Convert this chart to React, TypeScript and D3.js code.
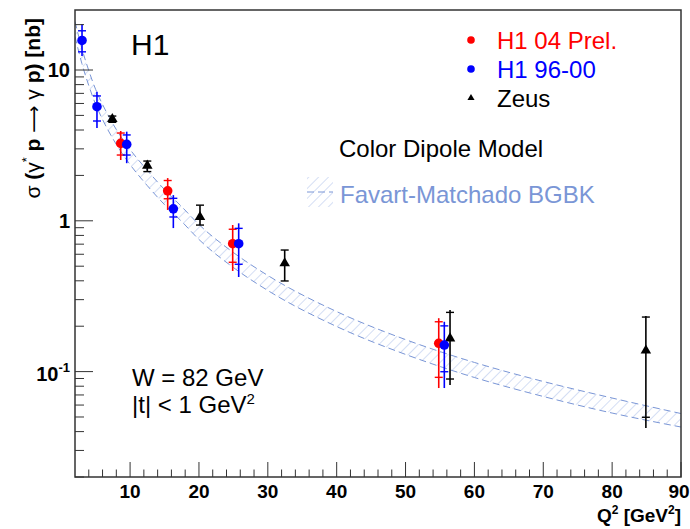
import React from 'react';
import * as d3 from 'd3';

// H1 04 Prel. (red)
const h104Q2 = [8.64, 15.46, 24.9, 54.82];
const h104Sigma = [3.26, 1.58, 0.705, 0.154];
const h104StatLo = [2.73, 1.4, 0.531, 0.0916];
const h104StatHi = [3.82, 1.85, 0.879, 0.214];
const h104TotLo = [2.53, 1.18, 0.465, 0.0778];
const h104TotHi = [3.94, 1.92, 0.938, 0.226];

// H1 96-00 (blue)
const h196Q2 = [3.02, 5.19, 9.51, 16.28, 25.77, 55.63];
const h196Sigma = [15.7, 5.71, 3.21, 1.2, 0.705, 0.15];
const h196StatLo = [13.2, 4.59, 2.73, 1.06, 0.515, 0.0998];
const h196StatHi = [18.2, 6.73, 3.71, 1.41, 0.891, 0.201];
const h196TotLo = [12.4, 4.12, 2.41, 0.895, 0.424, 0.0778];
const h196TotHi = [20.2, 7.18, 3.9, 1.48, 0.962, 0.214];

// Zeus (black)
const zeusQ2 = [7.42, 12.5, 20.15, 32.45, 56.46, 84.9];
const zeusSigma = [4.73, 2.32, 1.06, 0.523, 0.166, 0.138];
const zeusStatLo = [4.5, 2.12, 0.937, 0.399, 0.0893, 0.0498];
const zeusStatHi = [4.95, 2.49, 1.27, 0.64, 0.247, 0.23];
const zeusTotLo = [4.5, 2.12, 0.937, 0.399, 0.0815, 0.0423];
const zeusTotHi = [4.95, 2.49, 1.27, 0.64, 0.256, 0.234];

// Favart-Matchado BGBK band
const bandQ2 = [2, 3, 4, 5, 6, 8, 10, 12.5, 15, 17.5, 20, 25, 30, 40, 50, 60, 70, 80, 90];
const bandHi = [20.97, 13.89, 9.92, 7.43, 5.91, 4.03, 2.97, 2.16, 1.61, 1.24, 0.945, 0.616, 0.434, 0.25, 0.163, 0.115, 0.086, 0.0668, 0.0527];
const bandLo = [16.68, 11.04, 7.89, 5.91, 4.7, 3.21, 2.36, 1.71, 1.28, 0.989, 0.752, 0.49, 0.345, 0.199, 0.13, 0.0914, 0.0684, 0.0531, 0.0429];

const xTicks = [10, 20, 30, 40, 50, 60, 70, 80, 90];

const W = 690;
const H = 529;
const margin = { top: 10, right: 9, bottom: 52, left: 75 };
const FONT = '"Liberation Sans", Arial, Helvetica, sans-serif';
const BAND = '#7a96d6';

const x = d3.scaleLinear().domain([2, 90]).range([margin.left, W - margin.right]);
const y = d3.scaleLog().domain([0.02, 25]).range([H - margin.bottom, margin.top]);

const x0 = margin.left, x1 = W - margin.right, y0 = margin.top, y1 = H - margin.bottom;

function Series({ q2, sigma, statLo, statHi, totLo, totHi, color, marker }) {
    const tri = d3.symbol(d3.symbolTriangle, 48)();
    return (
        <g>
            {q2.map((q, i) => {
                const cx = x(q);
                return (
                    <g key={i}>
                        <line x1={cx} x2={cx} y1={y(totLo[i])} y2={y(totHi[i])} stroke={color} strokeWidth={1.6} />
                        <line x1={cx - 4} x2={cx + 4} y1={y(statLo[i])} y2={y(statLo[i])} stroke={color} strokeWidth={1.4} />
                        <line x1={cx - 4} x2={cx + 4} y1={y(statHi[i])} y2={y(statHi[i])} stroke={color} strokeWidth={1.4} />
                        {marker === 'circle'
                            ? <circle cx={cx} cy={y(sigma[i])} r={4.8} fill={color} />
                            : <path d={tri} transform={`translate(${cx},${y(sigma[i])})`} fill={color} />}
                    </g>
                );
            })}
        </g>
    );
}

export default function App() {
    // minor log ticks
    const yMinor = [];
    [0.01, 0.1, 1, 10].forEach(dec => {
        for (let k = 2; k <= 9; k++) {
            const v = dec * k;
            if (v >= 0.02 && v <= 25) yMinor.push(v);
        }
    });
    const xMinor = d3.range(4, 90, 2).filter(v => v % 10 !== 0);

    const bandLine = d3.line().x(d => d[0]).y(d => d[1]).curve(d3.curveMonotoneX);
    const upper = bandQ2.map((q, i) => [x(q), y(bandHi[i])]);
    const lower = bandQ2.map((q, i) => [x(q), y(bandLo[i])]);
    const area = d3.area().x(d => d[0]).y0(d => d[1]).y1(d => d[2]).curve(d3.curveMonotoneX);
    const areaPts = bandQ2.map((q, i) => [x(q), y(bandLo[i]), y(bandHi[i])]);

    return (
        <svg width={W} height={H} style={{ position: 'absolute', left: 0, top: 0, background: '#fff' }} fontFamily={FONT}>
            <defs>
                <pattern id="hatch" patternUnits="userSpaceOnUse" width={7} height={7} patternTransform="rotate(45)">
                    <line x1={0} y1={0} x2={0} y2={7} stroke="#a9bdea" strokeWidth={1} />
                </pattern>
                <clipPath id="frame">
                    <rect x={x0} y={y0} width={x1 - x0} height={y1 - y0} />
                </clipPath>
            </defs>

            {/* band */}
            <g clipPath="url(#frame)">
                <path d={area(areaPts)} fill="url(#hatch)" />
                <path d={bandLine(upper)} fill="none" stroke={BAND} strokeWidth={1} strokeDasharray="7,4" />
                <path d={bandLine(lower)} fill="none" stroke={BAND} strokeWidth={1} strokeDasharray="7,4" />
            </g>

            {/* data */}
            <Series q2={zeusQ2} sigma={zeusSigma} statLo={zeusStatLo} statHi={zeusStatHi} totLo={zeusTotLo} totHi={zeusTotHi} color="#000" marker="tri" />
            <Series q2={h104Q2} sigma={h104Sigma} statLo={h104StatLo} statHi={h104StatHi} totLo={h104TotLo} totHi={h104TotHi} color="#ff0000" marker="circle" />
            <Series q2={h196Q2} sigma={h196Sigma} statLo={h196StatLo} statHi={h196StatHi} totLo={h196TotLo} totHi={h196TotHi} color="#0000ff" marker="circle" />

            {/* frame */}
            <rect x={x0} y={y0} width={x1 - x0} height={y1 - y0} fill="none" stroke="#333" strokeWidth={1.5} />

            {/* x axis ticks */}
            {xTicks.map(t => (
                <g key={t}>
                    <line x1={x(t)} x2={x(t)} y1={y1} y2={y1 - 15} stroke="#333" strokeWidth={1} />
                    <text x={t === 90 ? x(t) - 2 : x(t)} y={498} textAnchor="middle" fontWeight="bold" fontSize={19}>{t}</text>
                </g>
            ))}
            {xMinor.map(t => (
                <line key={t} x1={x(t)} x2={x(t)} y1={y1} y2={y1 - 7.5} stroke="#333" strokeWidth={1} />
            ))}
            <text x={x1} y={522} textAnchor="end" fontWeight="bold" fontSize={19}>
                Q<tspan dy={-8} fontSize={12}>2</tspan><tspan dy={8}> [GeV</tspan><tspan dy={-8} fontSize={12}>2</tspan><tspan dy={8}>]</tspan>
            </text>

            {/* y axis ticks */}
            {[0.1, 1, 10].map(t => (
                <line key={t} x1={x0} x2={x0 + 18} y1={y(t)} y2={y(t)} stroke="#333" strokeWidth={1} />
            ))}
            {yMinor.map(t => (
                <line key={t} x1={x0} x2={x0 + 9} y1={y(t)} y2={y(t)} stroke="#333" strokeWidth={1} />
            ))}
            <text x={70} y={y(10) + 7} textAnchor="end" fontWeight="bold" fontSize={20}>10</text>
            <text x={70} y={y(1) + 7} textAnchor="end" fontWeight="bold" fontSize={20}>1</text>
            <text x={70} y={y(0.1) + 9} textAnchor="end" fontWeight="bold" fontSize={20}>
                10<tspan dy={-9} fontSize={13}>-1</tspan>
            </text>

            {/* y title */}
            <text transform={`translate(40,18) rotate(-90)`} textAnchor="end" fontSize={21}>
                <tspan>σ </tspan><tspan fontWeight="bold">(</tspan><tspan>γ</tspan>
                <tspan dy={-9} fontSize={13}>*</tspan>
                <tspan dy={9} fontWeight="bold"> p </tspan><tspan fontFamily="DejaVu Sans" fontSize={19}>⟶</tspan><tspan> γ </tspan><tspan fontWeight="bold">p) [nb]</tspan>
            </text>

            {/* labels */}
            <text x={131} y={55} fontSize={30}>H1</text>
            <text x={132} y={386} fontSize={24}>W = 82 GeV</text>
            <text x={132} y={413} fontSize={24}>
                |t| &lt; 1 GeV<tspan dy={-9} fontSize={15}>2</tspan>
            </text>

            {/* legend */}
            <circle cx={471} cy={40} r={3.8} fill="#ff0000" />
            <text x={497} y={49} fontSize={24} fill="#ff0000">H1 04 Prel.</text>
            <circle cx={471} cy={69} r={3.8} fill="#0000ff" />
            <text x={497} y={78} fontSize={24} fill="#0000ff">H1 96-00</text>
            <path d={d3.symbol(d3.symbolTriangle, 22)()} transform="translate(471,98)" fill="#000" />
            <text x={497} y={107} fontSize={24}>Zeus</text>

            <text x={339} y={157} fontSize={24}>Color Dipole Model</text>
            <rect x={307} y={177} width={26} height={30} fill="url(#hatch)" />
            <line x1={307} x2={333} y1={192} y2={192} stroke={BAND} strokeWidth={1} strokeDasharray="7,4" />
            <text x={340} y={203} fontSize={24} fill={BAND}>Favart-Matchado BGBK</text>
        </svg>
    );
}
